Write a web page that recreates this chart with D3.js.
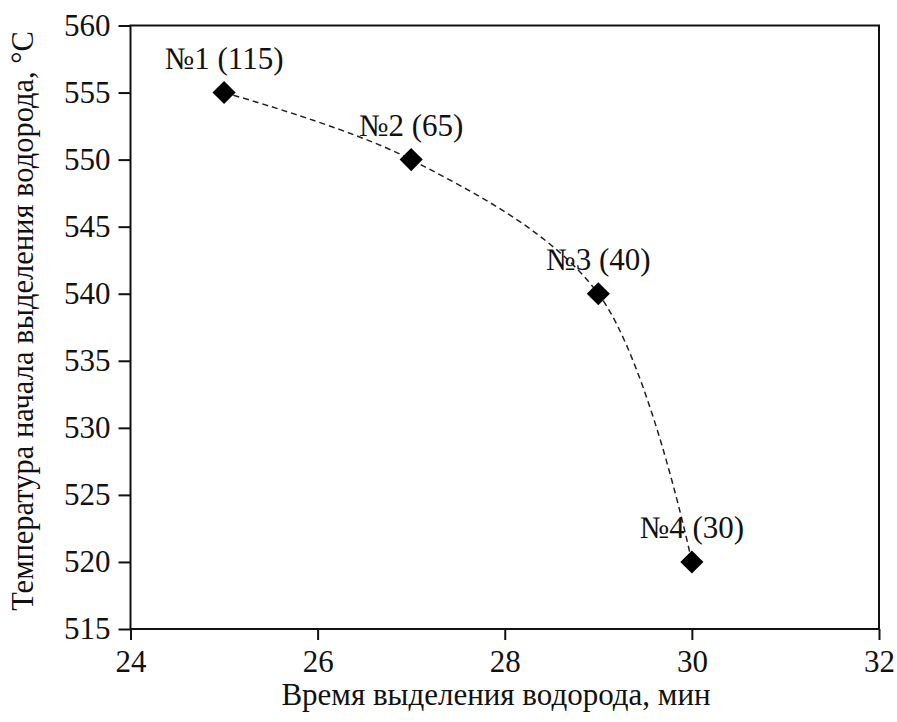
<!DOCTYPE html>
<html>
<head>
  <meta charset="utf-8">
  <title>Температура начала выделения водорода</title>
  <script src="https://d3js.org/d3.v7.min.js"></script>
  <style>
    body { margin: 0; background: #fff; }
  </style>
</head>
<body>
  <svg id="chart" width="897" height="722"></svg>

  <script>
    // данные
    const times = [25, 27, 29, 30];
    const temps = [555, 550, 540, 520];
    const names = ["№1 (115)", "№2 (65)", "№3 (40)", "№4 (30)"];
    const xTicks = [24, 26, 28, 30, 32];
    const yTicks = [515, 520, 525, 530, 535, 540, 545, 550, 555, 560];

    const width = 897, height = 722;
    const margin = { top: 25.5, right: 18, bottom: 93, left: 130.5 };
    const font = '"Liberation Serif", "Times New Roman", serif';
    const fs = "31px";

    const svg = d3.select("#chart");

    const x = d3.scaleLinear().domain([24, 32]).range([margin.left, width - margin.right]);
    const y = d3.scaleLinear().domain([515, 560]).range([height - margin.bottom, margin.top]);

    const pts = times.map((t, i) => ({ t: t, v: temps[i], name: names[i] }));

    // рамка
    svg.append("rect")
      .attr("x", x(24)).attr("y", y(560))
      .attr("width", x(32) - x(24)).attr("height", y(515) - y(560))
      .attr("fill", "none").attr("stroke", "#111").attr("stroke-width", 2);

    const xAxis = svg.append("g")
      .attr("transform", `translate(0,${y(515)})`)
      .call(d3.axisBottom(x).tickValues(xTicks).tickSize(11).tickPadding(10));
    const yAxis = svg.append("g")
      .attr("transform", `translate(${x(24)},0)`)
      .call(d3.axisLeft(y).tickValues(yTicks).tickSize(12).tickPadding(8));

    [xAxis, yAxis].forEach(a => {
      a.select(".domain").remove();
      a.selectAll("line").attr("stroke", "#111").attr("stroke-width", 2);
      a.selectAll("text").attr("fill", "#111")
        .style("font-family", font).style("font-size", fs);
    });

    // пунктирная кривая
    const line = d3.line()
      .x(d => x(d.t)).y(d => y(d.v))
      .curve(d3.curveCatmullRom.alpha(0.5));
    svg.append("path")
      .datum(pts)
      .attr("d", line)
      .attr("fill", "none")
      .attr("stroke", "#222")
      .attr("stroke-width", 1.5)
      .attr("stroke-dasharray", "6,4");

    // маркеры
    svg.selectAll(".pt")
      .data(pts)
      .enter().append("path")
      .attr("class", "pt")
      .attr("transform", d => `translate(${x(d.t)},${y(d.v)})`)
      .attr("d", d3.symbol().type(d3.symbolDiamond2).size(340))
      .attr("fill", "#000");

    svg.selectAll(".lbl")
      .data(pts)
      .enter().append("text")
      .attr("class", "lbl")
      .attr("x", d => x(d.t))
      .attr("y", d => y(d.v) - 24)
      .attr("text-anchor", "middle")
      .attr("fill", "#111")
      .style("font-family", font).style("font-size", fs)
      .text(d => d.name);

    // подписи осей
    svg.append("text")
      .attr("x", 496)
      .attr("y", 705)
      .attr("text-anchor", "middle")
      .attr("fill", "#111")
      .style("font-family", font).style("font-size", fs)
      .text("Время выделения водорода, мин");

    svg.append("text")
      .attr("transform", `translate(33,321) rotate(-90)`)
      .attr("text-anchor", "middle")
      .attr("fill", "#111")
      .style("font-family", font).style("font-size", "30.5px")
      .text("Температура начала выделения водорода, °С");
  </script>
</body>
</html>
